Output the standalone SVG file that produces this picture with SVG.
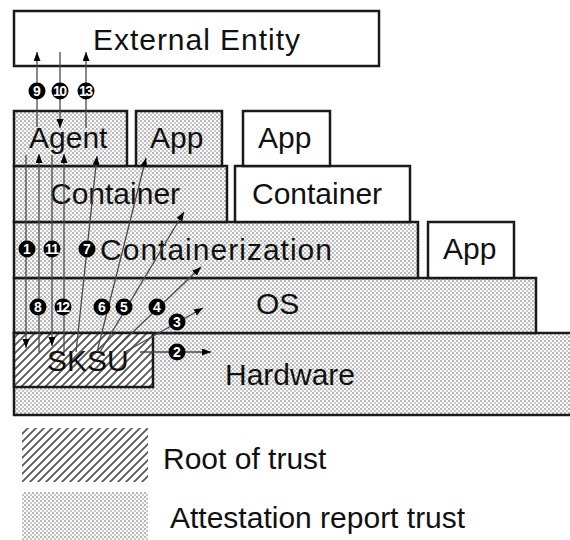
<svg xmlns="http://www.w3.org/2000/svg" width="570" height="540" viewBox="0 0 570 540">
<defs>
<pattern id="dots" patternUnits="userSpaceOnUse" width="4" height="4">
<rect width="4" height="4" fill="#fafafa"/>
<rect x="0" y="0" width="2" height="2" fill="#b8b8b8"/>
<rect x="2" y="2" width="2" height="2" fill="#c8c8c8"/>
</pattern>
<pattern id="hatch" patternUnits="userSpaceOnUse" width="8" height="8">
<rect width="8" height="8" fill="#ffffff"/>
<path d="M-2,2 L2,-2 M0,8 L8,0 M6,10 L10,6" stroke="#5a5a5a" stroke-width="1.9"/>
</pattern>
<marker id="ah" markerUnits="userSpaceOnUse" markerWidth="10" markerHeight="8" refX="9" refY="3.5" orient="auto">
<path d="M0,0 L9,3.5 L0,7 z" fill="#000"/>
</marker>
</defs>
<style>
.box{stroke:#1a1a1a;stroke-width:2.5}
.w{fill:#fff}
.d{fill:url(#dots)}
.h{fill:url(#hatch)}
.t{font-family:"Liberation Sans",Arial,sans-serif;font-size:30px;fill:#111}
.c{stroke:#4a4a4a;stroke-width:1.3;fill:none;marker-end:url(#ah)}
.b circle{fill:#000}
.b text{font-family:"Liberation Sans",Arial,sans-serif;font-size:14px;font-weight:bold;fill:#fff;text-anchor:middle}
</style>
<rect width="570" height="540" fill="#fff"/>
<g id="external-entity"><rect class="box w" x="14" y="11" width="365" height="55"/><text class="t" x="93" y="50" textLength="207">External Entity</text></g>
<g id="hardware"><rect class="box d" x="14" y="333" width="570" height="82"/><text class="t" x="225" y="385">Hardware</text></g>
<g id="os"><rect class="box d" x="14" y="278" width="522" height="55"/><text class="t" x="256" y="314">OS</text></g>
<g id="containerization"><rect class="box d" x="14" y="222" width="404" height="56"/><text class="t" x="100" y="260" textLength="232">Containerization</text></g>
<g id="app3"><rect class="box w" x="428" y="222" width="86" height="56"/><text class="t" x="443" y="259">App</text></g>
<g id="container1"><rect class="box d" x="14" y="166" width="213" height="56"/><text class="t" x="50" y="204">Container</text></g>
<g id="container2"><rect class="box w" x="235" y="166" width="175" height="56"/><text class="t" x="252" y="204">Container</text></g>
<g id="agent"><rect class="box d" x="14" y="111" width="113" height="55"/><text class="t" x="29" y="148">Agent</text></g>
<g id="app1"><rect class="box d" x="136" y="111" width="86" height="55"/><text class="t" x="150" y="148">App</text></g>
<g id="app2"><rect class="box w" x="243" y="111" width="87" height="55"/><text class="t" x="258" y="148">App</text></g>
<g id="sksu"><rect class="box h" x="14" y="333" width="139" height="54"/><text class="t" x="47" y="371">SKSU</text></g>
<g id="connectors">
<line class="c" x1="37" y1="127" x2="37" y2="52"/>
<line class="c" x1="60" y1="52" x2="60" y2="128"/>
<line class="c" x1="86" y1="128" x2="86" y2="52"/>
<line class="c" x1="26" y1="155" x2="26" y2="348"/>
<line class="c" x1="39" y1="352" x2="39" y2="154"/>
<line class="c" x1="52" y1="155" x2="52" y2="346"/>
<line class="c" x1="64" y1="352" x2="64" y2="154"/>
<line class="c" x1="76" y1="352" x2="97" y2="156"/>
<line class="c" x1="97" y1="352" x2="146" y2="158"/>
<line class="c" x1="100" y1="352" x2="184" y2="212"/>
<line class="c" x1="112" y1="352" x2="201" y2="267"/>
<line class="c" x1="125" y1="352" x2="203" y2="308"/>
<line class="c" x1="140" y1="352" x2="211" y2="352"/>
</g>
<g id="badges" class="b">
<circle cx="37" cy="91" r="8.5"/><text x="37" y="96">9</text>
<circle cx="60" cy="91" r="8.5"/><text x="60" y="96" textLength="14">10</text>
<circle cx="86" cy="91" r="8.5"/><text x="86" y="96" textLength="14">13</text>
<circle cx="27" cy="249" r="8.5"/><text x="27" y="254">1</text>
<circle cx="52" cy="249" r="8.5"/><text x="52" y="254" textLength="14">11</text>
<circle cx="87" cy="249" r="8.5"/><text x="87" y="254">7</text>
<circle cx="38" cy="307" r="8.5"/><text x="38" y="312">8</text>
<circle cx="63" cy="307" r="8.5"/><text x="63" y="312" textLength="14">12</text>
<circle cx="102" cy="307" r="8.5"/><text x="102" y="312">6</text>
<circle cx="124" cy="307" r="8.5"/><text x="124" y="312">5</text>
<circle cx="157" cy="307" r="8.5"/><text x="157" y="312">4</text>
<circle cx="177" cy="322" r="8.5"/><text x="177" y="327">3</text>
<circle cx="177" cy="352" r="8.5"/><text x="177" y="357">2</text>
</g>
<g id="legend">
<rect class="h" x="22" y="428" width="126" height="54"/>
<text class="t" x="163" y="469">Root of trust</text>
<rect class="d" x="22" y="492" width="126" height="48"/>
<text class="t" x="170" y="528">Attestation report trust</text>
</g>
</svg>
